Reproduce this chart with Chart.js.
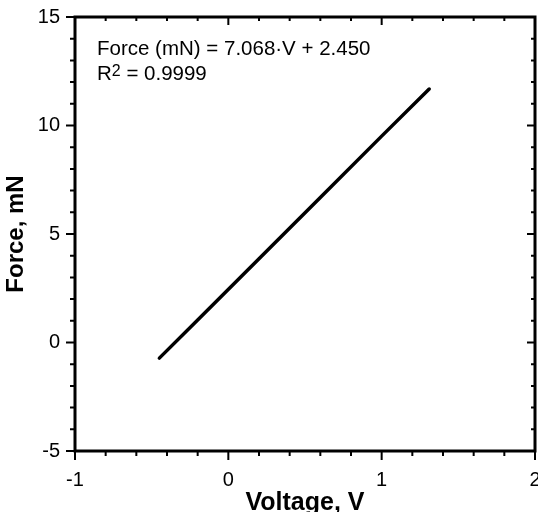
<!DOCTYPE html>
<html><head><meta charset="utf-8">
<script src="https://cdn.jsdelivr.net/npm/chart.js@4"></script>
<style>html,body{margin:0;padding:0;background:#fff;overflow:hidden}</style>
</head><body>
<canvas id="c" width="538" height="512"></canvas>
<script>
// Data
const voltage = [-0.45, -0.20, 0.20, 0.60, 1.00, 1.31];
const force   = [-0.72, 1.04, 3.86, 6.68, 9.51, 11.68];
const xTickLabels = [-1, 0, 1, 2];
const yTickLabels = [-5, 0, 5, 10, 15];
const xMinorStep = 0.2;
const yMinorStep = 1;
const fitText = 'Force (mN) = 7.068\u00B7V + 2.450';
const r2Parts = ['R', '2', ' = 0.9999'];
const xTitle = 'Voltage, V';
const yTitle = 'Force, mN';

const FONT = "'Liberation Sans', Arial, Helvetica, sans-serif";

const framePlugin = {
  id: 'frame',
  afterDraw(chart) {
    const {ctx, chartArea: a, scales: {x, y}} = chart;
    ctx.save();
    ctx.strokeStyle = '#000';
    ctx.lineWidth = 2;
    const nx = Math.round((x.max - x.min) / xMinorStep);
    for (let i = 0; i <= nx; i++) {
      const v = x.min + i * xMinorStep;
      const major = Math.abs(v - Math.round(v)) < 1e-6;
      const px = x.getPixelForValue(v);
      ctx.beginPath();
      ctx.moveTo(px, a.bottom); ctx.lineTo(px, a.bottom + (major ? 9 : 5));
      ctx.moveTo(px, a.top); ctx.lineTo(px, a.top + (major ? 8 : 4));
      ctx.stroke();
    }
    const ny = Math.round((y.max - y.min) / yMinorStep);
    for (let i = 0; i <= ny; i++) {
      const v = y.min + i * yMinorStep;
      const major = Math.abs(v / 5 - Math.round(v / 5)) < 1e-6;
      const py = y.getPixelForValue(v);
      ctx.beginPath();
      ctx.moveTo(a.left, py); ctx.lineTo(a.left - (major ? 9 : 5), py);
      ctx.moveTo(a.right, py); ctx.lineTo(a.right - (major ? 8 : 4), py);
      ctx.stroke();
    }
    ctx.lineWidth = 3;
    ctx.strokeRect(a.left, a.top, a.right - a.left, a.bottom - a.top);

    // fit annotation
    ctx.fillStyle = '#000';
    ctx.textBaseline = 'alphabetic';
    ctx.textAlign = 'left';
    const tx = a.left + 22;
    ctx.font = '20.5px ' + FONT;
    ctx.fillText(fitText, tx, a.top + 38);
    let cx = tx;
    const by = a.top + 63;
    ctx.fillText(r2Parts[0], cx, by);
    cx += ctx.measureText(r2Parts[0]).width;
    ctx.font = '16px ' + FONT;
    ctx.fillText(r2Parts[1], cx, by - 4);
    cx += ctx.measureText(r2Parts[1]).width;
    ctx.font = '20.5px ' + FONT;
    ctx.fillText(r2Parts[2], cx, by);
    ctx.restore();
  }
};

new Chart(document.getElementById('c'), {
  type: 'scatter',
  data: {
    datasets: [{
      data: voltage.map((v, i) => ({x: v, y: force[i]})),
      showLine: true,
      borderColor: '#000',
      backgroundColor: '#000',
      borderWidth: 3.5,
      borderCapStyle: 'round',
      pointRadius: 0,
      tension: 0
    }]
  },
  options: {
    responsive: false,
    animation: false,
    events: [],
    layout: {padding: {left: 0, right: 3, top: 17, bottom: 0}},
    plugins: {legend: {display: false}, tooltip: {enabled: false}},
    scales: {
      x: {
        type: 'linear', position: 'bottom', min: -1, max: 2,
        afterBuildTicks: s => { s.ticks = xTickLabels.map(v => ({value: v})); },
        ticks: {font: {family: FONT, size: 20}, color: '#000', padding: 17, maxRotation: 0, autoSkip: false},
        grid: {display: false, drawTicks: false},
        border: {display: false},
        title: {display: true, text: xTitle, color: '#000', font: {family: FONT, size: 25, weight: 'bold', lineHeight: 0.75}, padding: {top: 0, bottom: 0}},
        afterFit: s => { s.height = 61; s.paddingLeft = 0; s.paddingRight = 0; }
      },
      y: {
        type: 'linear', position: 'left', min: -5, max: 15,
        afterBuildTicks: s => { s.ticks = yTickLabels.map(v => ({value: v})); },
        ticks: {font: {family: FONT, size: 20}, color: '#000', padding: 15, autoSkip: false},
        grid: {display: false, drawTicks: false},
        border: {display: false},
        title: {display: true, text: yTitle, color: '#000', font: {family: FONT, size: 24, weight: 'bold', lineHeight: 1.2}, padding: {top: 2, bottom: 0}},
        afterFit: s => { s.width = 75; s.paddingTop = 0; s.paddingBottom = 0; }
      }
    }
  },
  plugins: [framePlugin]
});
</script>
</body></html>
